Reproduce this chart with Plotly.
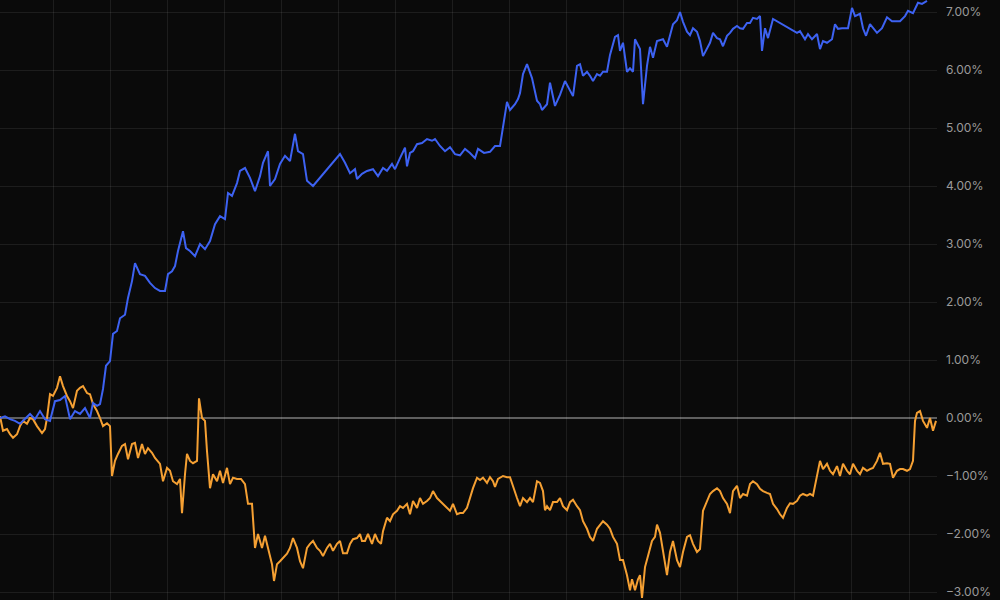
import plotly.graph_objects as go

blue_x = [0,5,10,15,20,25,30,35,40,45,50,55,60,65,70,75,80,85,90,93,97,100,103,106,110,113,117,120,125,128,132,135,140,145,150,155,160,165,168,172,175,178,183,186,190,195,200,205,210,215,220,225,228,232,237,240,245,250,255,260,263,268,270,275,280,285,290,295,298,303,307,313,340,345,350,355,357,362,367,373,378,383,387,392,395,400,405,407,410,413,417,422,427,432,435,440,445,450,455,460,465,470,475,478,484,490,495,500,503,507,510,515,518,520,523,527,532,537,540,542,547,550,555,560,565,570,573,577,580,583,587,590,593,597,600,603,607,610,615,618,620,623,627,630,633,635,640,643,647,650,653,657,663,667,670,673,677,680,683,687,690,693,697,700,703,707,710,713,717,720,723,727,730,733,737,740,743,747,750,753,757,760,762,765,768,773,797,800,805,808,812,817,820,823,827,832,835,838,842,848,852,855,860,863,866,870,873,877,882,887,892,900,905,908,913,918,922,927]
blue_y = [0.00,0.03,-0.02,-0.05,-0.10,-0.02,0.07,-0.02,0.12,-0.02,-0.05,0.29,0.31,0.38,-0.02,0.12,0.07,0.17,0.00,0.26,0.21,0.24,0.50,0.90,0.98,1.45,1.50,1.72,1.78,2.07,2.36,2.67,2.48,2.45,2.33,2.24,2.19,2.19,2.48,2.53,2.62,2.88,3.22,2.93,2.88,2.79,3.00,2.91,3.05,3.34,3.48,3.43,3.88,3.83,4.05,4.26,4.31,4.14,3.91,4.17,4.40,4.60,4.00,4.12,4.38,4.52,4.43,4.90,4.60,4.55,4.09,4.00,4.55,4.40,4.22,4.29,4.12,4.21,4.26,4.29,4.17,4.31,4.26,4.38,4.29,4.48,4.66,4.34,4.57,4.60,4.72,4.74,4.81,4.78,4.81,4.69,4.60,4.67,4.55,4.53,4.64,4.57,4.48,4.64,4.57,4.59,4.69,4.69,5.05,5.45,5.31,5.41,5.50,5.60,5.93,6.10,5.86,5.47,5.41,5.31,5.41,5.78,5.38,5.57,5.81,5.64,5.55,6.07,6.10,5.90,5.97,5.90,5.81,5.93,5.90,5.97,5.97,6.26,6.57,6.60,6.33,6.47,5.97,6.03,5.97,6.53,6.36,5.41,6.07,6.40,6.21,6.50,6.53,6.40,6.62,6.79,6.86,7.00,6.83,6.66,6.60,6.72,6.66,6.50,6.24,6.38,6.47,6.64,6.55,6.53,6.41,6.59,6.64,6.71,6.76,6.72,6.71,6.81,6.81,6.90,6.88,6.93,6.33,6.72,6.55,6.88,6.64,6.67,6.53,6.62,6.53,6.62,6.36,6.50,6.47,6.53,6.79,6.71,6.72,6.72,7.07,6.93,6.97,6.72,6.59,6.79,6.72,6.64,6.72,6.91,6.84,6.84,6.93,7.02,6.98,7.16,7.14,7.19]

orange_x = [0,3,7,10,13,17,20,23,27,30,33,37,42,45,47,50,53,57,60,63,67,70,73,77,80,83,87,90,93,97,100,103,107,110,112,115,118,122,125,128,132,135,138,142,145,148,152,155,160,163,167,170,173,177,180,182,185,187,190,193,197,199,202,205,207,210,213,217,220,223,227,230,233,237,241,245,248,252,255,258,262,265,268,272,274,277,280,283,287,290,293,297,300,303,307,310,313,317,320,323,327,330,333,337,340,343,347,350,353,357,360,362,365,368,372,375,378,381,383,387,390,393,397,400,403,407,410,413,417,420,423,427,430,433,437,440,443,447,450,453,457,460,463,467,470,473,477,480,483,487,490,493,495,498,503,507,510,513,517,520,523,527,530,533,535,537,540,543,545,547,550,553,557,560,563,567,570,573,577,580,583,587,590,593,597,600,603,607,610,613,617,620,623,627,630,632,635,638,640,642,645,648,652,655,657,660,663,667,670,673,677,680,683,687,690,693,697,700,703,707,710,713,717,720,723,727,730,733,737,740,743,747,750,753,757,760,763,767,770,773,777,780,783,787,790,793,797,800,803,807,810,813,817,820,823,827,830,833,837,840,843,847,850,853,857,860,863,867,870,873,877,880,883,887,890,893,897,900,903,907,910,913,915,917,920,923,927,930,933,936]
orange_y = [0.03,-0.22,-0.19,-0.28,-0.34,-0.28,-0.14,-0.05,-0.10,0.00,-0.02,-0.14,-0.26,-0.19,0.00,0.41,0.38,0.52,0.72,0.55,0.38,0.29,0.17,0.47,0.52,0.55,0.43,0.41,0.24,0.12,0.00,-0.14,-0.09,-0.14,-1.00,-0.74,-0.62,-0.48,-0.45,-0.71,-0.45,-0.43,-0.69,-0.45,-0.62,-0.52,-0.60,-0.69,-0.79,-1.09,-0.86,-0.91,-1.09,-1.14,-1.05,-1.64,-0.97,-0.62,-0.74,-0.78,-0.74,0.34,0.00,-0.05,-0.57,-1.21,-0.97,-1.09,-0.91,-1.12,-0.86,-1.14,-1.03,-1.05,-1.05,-1.14,-1.48,-1.48,-2.24,-2.00,-2.24,-2.03,-2.24,-2.52,-2.81,-2.52,-2.47,-2.41,-2.34,-2.24,-2.07,-2.24,-2.47,-2.59,-2.24,-2.17,-2.12,-2.24,-2.29,-2.38,-2.24,-2.17,-2.29,-2.17,-2.12,-2.33,-2.33,-2.17,-2.09,-2.07,-2.00,-2.12,-2.12,-2.00,-2.17,-2.00,-2.12,-2.17,-1.95,-1.72,-1.78,-1.66,-1.60,-1.52,-1.55,-1.48,-1.66,-1.43,-1.55,-1.38,-1.48,-1.43,-1.38,-1.26,-1.38,-1.43,-1.48,-1.55,-1.60,-1.48,-1.66,-1.64,-1.64,-1.55,-1.38,-1.21,-1.03,-1.07,-1.03,-1.12,-1.02,-1.09,-1.19,-1.05,-1.00,-1.02,-1.02,-1.19,-1.38,-1.52,-1.38,-1.45,-1.38,-1.45,-1.26,-1.09,-1.12,-1.26,-1.59,-1.52,-1.59,-1.45,-1.45,-1.38,-1.52,-1.59,-1.45,-1.41,-1.52,-1.59,-1.78,-1.91,-2.05,-2.12,-1.91,-1.84,-1.78,-1.84,-1.91,-2.05,-2.17,-2.45,-2.45,-2.71,-2.97,-2.78,-2.97,-2.78,-2.71,-3.10,-2.57,-2.38,-2.12,-2.05,-1.84,-1.98,-2.31,-2.71,-2.31,-2.12,-2.45,-2.57,-2.31,-2.05,-2.02,-2.17,-2.31,-2.26,-1.60,-1.43,-1.31,-1.26,-1.21,-1.26,-1.38,-1.48,-1.64,-1.26,-1.17,-1.38,-1.31,-1.34,-1.14,-1.09,-1.14,-1.22,-1.26,-1.29,-1.31,-1.48,-1.57,-1.66,-1.72,-1.55,-1.47,-1.48,-1.43,-1.34,-1.31,-1.34,-1.31,-1.34,-1.00,-0.74,-0.88,-0.79,-0.91,-0.97,-0.83,-1.00,-0.79,-0.91,-0.97,-0.79,-0.91,-0.97,-0.86,-0.91,-0.88,-0.86,-0.74,-0.60,-0.79,-0.78,-0.79,-1.03,-0.91,-0.88,-0.88,-0.91,-0.88,-0.74,-0.05,0.09,0.12,-0.05,-0.17,0.00,-0.22,-0.05]

y_ticks = [-3, -2, -1, 0, 1, 2, 3, 4, 5, 6, 7]
y_ticktext = ["−3.00%", "−2.00%", "−1.00%", "0.00%", "1.00%", "2.00%",
              "3.00%", "4.00%", "5.00%", "6.00%", "7.00%"]
x_grid = [53 + 57.07 * k for k in range(16)]

fig = go.Figure()
fig.add_trace(go.Scatter(x=orange_x, y=orange_y, mode="lines",
                         line=dict(color="#f5a033", width=2), hoverinfo="skip"))
fig.add_trace(go.Scatter(x=blue_x, y=blue_y, mode="lines",
                         line=dict(color="#3d62f2", width=2), hoverinfo="skip"))

fig.update_layout(
    width=1000, height=600,
    margin=dict(l=0, r=63, t=0, b=0),
    paper_bgcolor="#0a0a0a", plot_bgcolor="#0a0a0a",
    showlegend=False,
    xaxis=dict(range=[0, 937], tickvals=x_grid, showticklabels=False,
               showgrid=True, gridcolor="rgba(255,255,255,0.08)", zeroline=False,
               showline=False),
    yaxis=dict(range=[-3.138, 7.207], side="right", tickvals=y_ticks,
               ticktext=y_ticktext,
               showgrid=True, gridcolor="rgba(255,255,255,0.08)",
               zeroline=True, zerolinecolor="rgba(255,255,255,0.35)", zerolinewidth=1.5,
               tickfont=dict(family="Inter", size=12, color="#9a9a9a"),
               ticks="", ticklabelstandoff=8),
)
fig.write_html("out.html", config={"displayModeBar": False},
               post_script="document.body.style.margin='0';document.body.style.background='#0a0a0a';")
